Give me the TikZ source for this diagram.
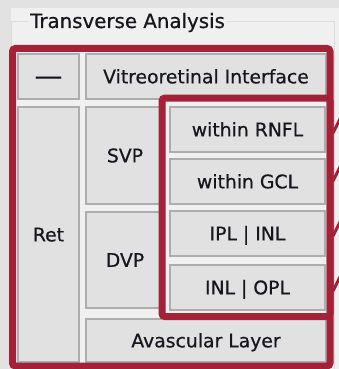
\documentclass[tikz,border=0pt]{standalone}
\usepackage{fontspec}
\setmainfont{DejaVu Sans}[FakeBold=0.6]
\definecolor{redframe}{RGB}{164,34,56}
\definecolor{outerbg}{RGB}{226,226,226}
\definecolor{panel}{RGB}{240,240,240}
\definecolor{btnfill}{RGB}{225,225,225}
\definecolor{btnborder}{RGB}{173,173,173}
\definecolor{gbline}{RGB}{220,220,220}
\definecolor{txt}{RGB}{22,22,30}
\begin{document}
\begin{tikzpicture}[x=1pt,y=-1pt,
  btn/.style={draw=btnborder, fill=btnfill, line width=1.5pt, inner sep=0pt,
    text=txt, font=\fontsize{18.8}{20}\selectfont, text height=13.7pt, text depth=0pt},
  redbox/.style={draw=redframe, line width=7pt, rounded corners=3pt},
  stub/.style={draw=redframe, line width=3pt}]
\useasboundingbox (0,0) rectangle (339,369);
\clip (0,0) rectangle (339,369);
\fill[outerbg] (0,0) rectangle (339,369);
\fill[panel] (11,8) rectangle (339,369);
\draw[gbline, line width=1pt] (11.5,369) -- (11.5,22) -- (334,22) -- (334,369);
\node[font=\fontsize{19.8}{21}\selectfont, fill=panel, anchor=base west,
  inner xsep=2pt, inner ysep=1pt, text=txt] (title) at (28,28) {Transverse Analysis};
% buttons
\node[btn, minimum width=61pt, minimum height=45pt, font=\fontsize{28}{28}\selectfont,
  text height=17.6pt] (dash) at (48.5,76.5) {—};
\node[btn, minimum width=240pt, minimum height=45pt] (vri) at (206,76.5) {Vitreoretinal Interface};
\node[btn, minimum width=61pt, minimum height=255pt] (ret) at (48.5,234.5) {Ret};
\node[btn, minimum width=78pt, minimum height=97pt] (svp) at (125,155.5) {SVP};
\node[btn, minimum width=78pt, minimum height=96pt] (dvp) at (125,260) {DVP};
\node[btn, minimum width=240pt, minimum height=43pt] (avl) at (206,340.5) {Avascular Layer};
\node[btn, minimum width=155pt, minimum height=45pt] (rnfl) at (247.5,129.5) {within RNFL};
\node[btn, minimum width=155pt, minimum height=45pt] (gcl) at (247.5,181.5) {within GCL};
\node[btn, minimum width=155pt, minimum height=45pt] (iplinl) at (247.5,233.5) {IPL | INL};
\node[btn, minimum width=155pt, minimum height=45pt] (inlopl) at (247.5,287.5) {INL | OPL};
% red frames
\draw[redbox] (12.5,48.5) rectangle (330,366);
\draw[redbox] (162,98) rectangle (330,316.5);
% leader stubs
\foreach \c/\n in {127/a,175/b,230/c,285/d}{
  \coordinate (s\n) at (333,\c+6);
  \coordinate (e\n) at (341,\c-10);
  \draw[stub] (s\n) -- (e\n);
}
\end{tikzpicture}
\end{document}
